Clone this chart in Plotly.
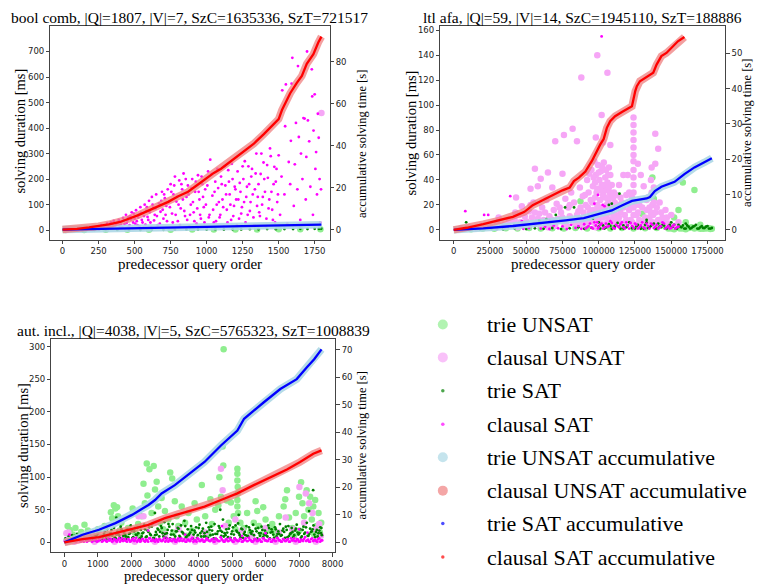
import plotly.graph_objects as go

# ---------------- text ----------------
TITLES = ["bool comb, |Q|=1807, |V|=7, SzC=1635336, SzT=721517",
          "ltl afa, |Q|=59, |V|=14, SzC=1945110, SzT=188886",
          "aut. incl., |Q|=4038, |V|=5, SzC=5765323, SzT=1008839"]
X_LABEL = "predecessor query order"
Y_LEFT_LABEL = "solving duration [ms]"
Y_RIGHT_LABEL = "accumulative solving time [s]"
SERIES = ["trie UNSAT", "clausal UNSAT", "trie SAT", "clausal SAT",
          "trie UNSAT accumulative", "clausal UNSAT accumulative",
          "trie SAT accumulative", "clausal SAT accumulative"]

# ---------------- ticks ----------------
P1_XTICKS = [0, 250, 500, 750, 1000, 1250, 1500, 1750]
P1_YTICKS = [0, 100, 200, 300, 400, 500, 600, 700]
P1_Y2TICKS = [0, 20, 40, 60, 80]
P2_XTICKS = [0, 25000, 50000, 75000, 100000, 125000, 150000, 175000]
P2_YTICKS = [0, 20, 40, 60, 80, 100, 120, 140, 160]
P2_Y2TICKS = [0, 10, 20, 30, 40, 50]
P3_XTICKS = [0, 1000, 2000, 3000, 4000, 5000, 6000, 7000, 8000]
P3_YTICKS = [0, 50, 100, 150, 200, 250, 300]
P3_Y2TICKS = [0, 10, 20, 30, 40, 50, 60, 70]

# ================= panel 1 : bool comb =================
p1_trie_unsat = [(20, 1), (150, 1), (300, 1.5), (450, 1.5), (600, 2), (750, 2), (900, 2.5), (1050, 2.5),
                 (1200, 3), (1350, 3), (1500, 3.5), (1650, 4), (1790, 4)]
p1_clausal_unsat = [(25, 1), (1797, 459)]
p1_trie_sat = [(60, 0.5), (140, 0.6), (220, 0.8), (300, 0.7), (380, 1), (460, 1.2), (540, 1), (620, 1.5),
               (700, 1.4), (780, 2), (860, 1.8), (940, 2.5), (1000, 2.2), (1060, 3), (1120, 2.6), (1180, 3.4),
               (1240, 3), (1300, 3.8), (1360, 3.5), (1420, 4.2), (1480, 3.8), (1540, 4.6), (1600, 4.2),
               (1650, 5), (1700, 4.6), (1750, 5.4), (1780, 5), (1795, 5.6)]
p1_clausal_sat = [
    (160, 2), (180, 6), (200, 4), (215, 10), (230, 8), (245, 14), (260, 12), (270, 20), (285, 6), (300, 18),
    (310, 26), (320, 12), (335, 30), (345, 22), (355, 36), (365, 16), (380, 28), (390, 40), (400, 10), (410, 34),
    (420, 48), (430, 24), (440, 60), (450, 38), (460, 14), (470, 55), (480, 70), (490, 30), (500, 45), (510, 78),
    (520, 20), (530, 62), (540, 90), (550, 40), (560, 10), (570, 100), (580, 75), (590, 52), (600, 115), (610, 30),
    (620, 130), (630, 88), (640, 60), (650, 140), (660, 20), (670, 105), (680, 72), (690, 150), (700, 45),
    (710, 125), (720, 95), (730, 160), (740, 8), (750, 180), (760, 65), (770, 140), (780, 210), (790, 112),
    (800, 35), (810, 195), (820, 85), (830, 160), (840, 222), (850, 55), (860, 130), (870, 175), (880, 15),
    (890, 100), (900, 200), (910, 70), (920, 150), (930, 25), (940, 215), (950, 120), (960, 45), (970, 180),
    (980, 90), (990, 160), (1000, 10), (1010, 230), (1020, 60), (1025, 276), (1040, 135), (1050, 30), (1060, 190),
    (1070, 100), (1080, 165), (1090, 50), (1100, 210), (1110, 120), (1120, 15), (1130, 175), (1140, 80),
    (1150, 235), (1160, 140), (1170, 40), (1180, 200), (1190, 95), (1200, 160), (1210, 20), (1220, 120),
    (1230, 185), (1240, 65), (1250, 250), (1260, 110), (1270, 30), (1280, 170), (1290, 250), (1300, 75),
    (1310, 210), (1320, 140), (1330, 20), (1340, 222), (1350, 95), (1360, 180), (1370, 55), (1380, 300),
    (1390, 130), (1400, 200), (1410, 15), (1420, 255), (1430, 85), (1440, 320), (1450, 150), (1460, 40),
    (1470, 248), (1480, 190), (1490, 110), (1500, 293), (1510, 60), (1520, 210), (1525, 548), (1540, 140),
    (1545, 407), (1550, 571), (1560, 25), (1570, 267), (1580, 180), (1585, 350), (1590, 574), (1595, 675),
    (1605, 95), (1612, 258), (1620, 420), (1630, 160), (1634, 643), (1640, 365), (1650, 40), (1655, 300),
    (1665, 200), (1672, 439), (1680, 437), (1688, 120), (1692, 287), (1697, 700), (1703, 430), (1712, 348),
    (1720, 170), (1730, 630), (1733, 524), (1738, 60), (1742, 390), (1750, 532), (1755, 240), (1760, 306),
    (1766, 140), (1772, 456), (1778, 362), (1784, 200), (1788, 30), (1794, 160),
    (205, 1), (225, 3), (240, 6), (255, 2), (265, 9), (290, 15), (305, 4), (325, 20), (340, 8), (350, 14),
    (370, 25), (385, 5), (395, 18), (405, 22), (415, 12), (425, 38), (435, 5), (445, 28), (455, 50), (465, 20),
    (475, 42), (485, 8), (495, 65), (505, 25), (515, 35), (525, 50), (535, 15), (545, 68), (555, 30), (565, 55),
    (575, 22), (585, 90), (595, 40), (605, 70), (615, 12), (625, 100), (635, 38), (645, 85), (655, 55),
    (675, 25), (685, 115), (695, 80), (705, 140), (715, 60), (725, 35), (735, 110), (745, 90), (755, 150),
    (765, 30), (775, 175), (785, 60), (795, 130), (805, 100), (815, 20), (825, 180), (835, 120), (845, 75),
    (855, 200), (865, 40), (875, 140), (885, 60), (895, 165), (905, 110), (915, 35), (925, 190), (935, 85),
    (945, 150), (955, 60), (965, 210), (975, 130), (985, 30), (995, 100), (1005, 175), (1015, 50), (1035, 220),
    (1045, 80), (1055, 150), (1065, 35), (1075, 240), (1085, 110), (1095, 60), (1105, 180), (1115, 90),
    (1125, 250), (1135, 140), (1145, 30), (1155, 190), (1165, 100), (1175, 260), (1185, 55), (1195, 170),
    (1205, 120), (1215, 230), (1225, 45), (1235, 150), (1245, 90), (1255, 200), (1265, 270), (1275, 130),
    (1285, 60), (1295, 180), (1305, 110), (1315, 240), (1325, 50), (1335, 160), (1345, 300), (1355, 130),
    (1365, 70), (1375, 220), (1385, 100), (1395, 265), (1405, 150), (1415, 45), (1425, 205), (1435, 120),
    (1445, 290), (1455, 80), (1465, 180), (1475, 30), (1485, 240), (1495, 140)]
p1_trie_acc = [(0, 0), (250, 0.4), (500, 0.7), (750, 1.0), (1000, 1.3), (1250, 1.6), (1500, 1.9), (1797, 2.3)]
p1_clausal_acc = [(0, 0), (100, 0.3), (184, 1), (250, 1.6), (321, 2.5), (400, 3.6), (459, 5), (530, 7), (596, 9),
                  (665, 11), (733, 13.2), (800, 15.8), (871, 18), (940, 21.5), (1008, 25), (1050, 27),
                  (1100, 29), (1168, 32.5), (1237, 36), (1328, 41), (1397, 45.5), (1466, 50.3), (1500, 52.7),
                  (1523, 57), (1546, 60.5), (1580, 65), (1626, 70), (1661, 73.3), (1695, 79), (1741, 83.6),
                  (1775, 89.2), (1797, 92)]

# ================= panel 2 : ltl afa =================
p2_trie_unsat = [(5000, 1), (12000, 0.5), (20000, 1), (28000, 0.8), (36000, 1.2), (44000, 1), (52000, 1.5),
                 (60000, 1), (68000, 1.2), (76000, 1), (84000, 1.5), (92000, 1), (100000, 1.3), (108000, 1),
                 (116000, 1.5), (124000, 1), (132000, 1.2), (140000, 1.5), (146000, 2.5), (150000, 1),
                 (154000, 2), (158000, 1), (162000, 1.5), (166000, 1), (170000, 0.8), (174000, 1), (177000, 0.6),
                 (148000, 1), (152000, 0.5), (156000, 1), (160000, 0.5), (164000, 2), (168000, 1.5),
                 (172000, 0.8), (176000, 1.2), (178000, 0.8),
                 (137000, 42), (158000, 38), (166000, 32), (155000, 16), (130000, 13), (138000, 25),
                 (87400, 23), (110000, 3), (143000, 6), (160000, 6), (152000, 10), (170000, 4)]
p2_clausal_unsat = [
    (99000, 140), (106000, 126), (88000, 122), (102000, 92), (82000, 81), (76000, 76), (70000, 71), (85000, 71),
    (98000, 74), (103000, 70), (108000, 68), (139000, 77), (141000, 65), (127000, 53), (139000, 53), (56000, 49),
    (65000, 46), (75000, 45), (60000, 41), (58000, 35), (68000, 34), (53000, 33), (43000, 26), (114000, 36),
    (120000, 44), (107000, 50), (124000, 90), (124000, 84), (124000, 78), (124000, 72), (124000, 66),
    (124000, 60), (124000, 55), (124000, 48), (124000, 42), (124000, 36), (124000, 30), (124000, 24),
    (124000, 18), (124000, 12),
    (40000, 4), (42000, 8), (45000, 12), (47000, 19), (48000, 3), (50000, 7), (52000, 15), (54000, 10),
    (55000, 22), (57000, 5), (59000, 13), (61000, 18), (62000, 8), (64000, 24), (66000, 11), (67000, 4),
    (69000, 16), (71000, 21), (72000, 9), (74000, 14), (76000, 6), (77000, 25), (79000, 18), (80000, 11),
    (81000, 30), (83000, 22), (84000, 5), (86000, 15), (87000, 34), (89000, 27), (90000, 9), (91000, 20),
    (92000, 40), (93000, 30), (94000, 14), (95000, 48), (95500, 22), (96000, 35), (96500, 6), (97000, 55),
    (97500, 26), (98000, 44), (98500, 16), (99000, 33), (99500, 52), (100000, 10), (100500, 40), (101000, 24),
    (101500, 47), (102000, 36), (102500, 4), (103000, 28), (103500, 54), (104000, 18), (104500, 42),
    (105000, 32), (105500, 12), (106000, 38), (106500, 24), (107000, 8), (107500, 30), (108000, 44),
    (108500, 20), (109000, 14), (110000, 26), (111000, 6), (112000, 18),
    (113000, 8), (115000, 14), (116000, 22), (117000, 44), (118000, 4), (119000, 28), (121000, 16),
    (122000, 8), (123000, 26), (126000, 12), (128000, 20), (129000, 44), (130000, 6), (131000, 35),
    (133000, 16), (134000, 26), (135000, 10), (136000, 40), (136500, 30), (137000, 20), (137500, 12),
    (138000, 34), (140000, 6), (142000, 22), (144000, 10), (146000, 16), (148000, 5), (150000, 12),
    (152000, 3), (155000, 6),
    (5000, 1), (10000, 2), (15000, 1), (20000, 3), (25000, 2), (30000, 5), (31000, 10), (35000, 4), (38000, 7),
    (88500, 3), (89500, 14), (90500, 28), (91500, 6), (92500, 18), (93500, 45), (94500, 24), (95000, 8),
    (96000, 16), (96500, 42), (97000, 12), (97500, 38), (98000, 2), (98500, 30), (99000, 20), (99500, 8),
    (100000, 46), (100500, 18), (101000, 5), (101500, 32), (102000, 14), (102500, 50), (103000, 10),
    (103500, 36), (104000, 4), (104500, 26), (105000, 48), (105500, 20), (106000, 6), (106500, 44),
    (107000, 34), (107500, 14), (108000, 26), (108500, 8), (109000, 36), (109500, 18), (110000, 10),
    (110500, 30), (111000, 22), (111500, 12), (112000, 28), (113000, 20), (114000, 10), (115000, 26),
    (116000, 5), (117000, 18), (118000, 12), (119000, 8), (120000, 22), (121000, 30), (122000, 18),
    (123000, 6), (125000, 20), (126000, 4), (127000, 14), (128000, 8), (130000, 18), (132000, 10),
    (133000, 24), (134000, 5), (135000, 18), (136000, 14), (136500, 50), (137000, 6), (138000, 22),
    (139000, 14), (140000, 18), (141000, 8), (143000, 14), (145000, 6), (147000, 10), (149000, 4),
    (42500, 14), (44000, 2), (46000, 6), (49000, 11), (51000, 3), (53000, 20), (56000, 14), (58000, 9),
    (60000, 4), (63000, 14), (65000, 2), (68000, 8), (70000, 3), (73000, 18), (75000, 10), (78000, 3),
    (80000, 20), (82000, 8), (85000, 12), (87500, 18), (88000, 6)]
p2_trie_sat = [
    (3000, 0.3), (10000, 0.5), (18000, 0.4), (26000, 0.8), (34000, 0.5), (42000, 1), (50000, 0.6), (56000, 1.2),
    (62000, 0.8), (68000, 1.5), (74000, 0.6), (80000, 1.2), (86000, 2), (90000, 0.8), (95000, 1.6),
    (100000, 2.5), (104000, 1), (108000, 3), (111000, 1.5), (114000, 2.5), (117000, 1), (120000, 3.5),
    (123000, 1.2), (126000, 2.8), (129000, 0.8), (132000, 4), (134000, 1.5), (136000, 3), (138000, 5),
    (140000, 1), (142000, 2.5), (144000, 4), (146000, 1.2), (148000, 3), (150000, 2), (152000, 4),
    (154000, 1), (156000, 2.5), (158000, 3.5), (160000, 1), (162000, 2.5), (164000, 1.5), (166000, 3),
    (168000, 1), (170000, 2), (172000, 1.5), (174000, 2.5), (176000, 1), (178000, 1.5),
    (101000, 1), (103000, 3.5), (105000, 1.8), (107000, 4.5), (109000, 0.8), (111000, 3), (113000, 5.5),
    (115000, 1), (117000, 3.5), (119000, 2), (121000, 6), (123000, 2.5), (125000, 1), (127000, 4),
    (129000, 2.5), (131000, 1), (133000, 6), (135000, 2), (137000, 4), (139000, 1), (141000, 5), (143000, 2),
    (145000, 3.5), (147000, 1), (149000, 4), (151000, 2.5), (153000, 1), (155000, 4), (157000, 2), (159000, 1),
    (161000, 3.5), (163000, 1), (165000, 2.5), (167000, 4), (169000, 1), (171000, 3), (173000, 1.5),
    (175000, 3), (177000, 1),
    (8600, 6), (114300, 29), (107000, 20), (109000, 21), (76800, 18), (83000, 18), (70400, 12), (64000, 8.6),
    (59000, 7.4), (133000, 8), (150000, 6), (160000, 5), (55000, 5), (96000, 9), (100000, 6)]
p2_clausal_sat = [
    (5000, 0.5), (10000, 1), (15000, 0.8), (25000, 1.5), (30000, 0.6), (35000, 1.2), (42000, 2), (48000, 0.8),
    (52000, 1.5), (56000, 3), (60000, 1), (63000, 2.5), (66000, 0.7), (69000, 3.5), (72000, 1.2), (75000, 2.8),
    (78000, 0.6), (81000, 4), (84000, 1.5), (86000, 3), (88000, 0.8), (90000, 4.5), (92000, 2), (94000, 5),
    (96000, 1), (98000, 3.5), (99000, 6), (100000, 2), (101000, 4), (103000, 1), (105000, 5), (106000, 2.5),
    (108000, 7), (110000, 1.5), (112000, 4), (114000, 2), (116000, 6), (118000, 1), (120000, 3.5),
    (122000, 5.5), (124000, 1.5), (126000, 4), (128000, 2), (130000, 6), (132000, 1), (134000, 3),
    (136000, 5), (138000, 1.5), (140000, 4), (142000, 2), (144000, 6), (146000, 1), (148000, 3),
    (150000, 1.5), (152000, 4), (154000, 2),
    (91000, 1), (93000, 3), (95000, 2), (97000, 6), (99500, 1), (102000, 5), (104000, 2), (107000, 3),
    (109000, 5.5), (111000, 1), (113000, 3), (115000, 4.5), (117000, 2), (119000, 6), (121000, 1),
    (123000, 3), (125000, 5), (127000, 1), (129000, 3.5), (131000, 2), (133000, 5), (135000, 1), (137000, 4),
    (139000, 2.5), (141000, 1), (143000, 3), (145000, 5), (147000, 2), (149000, 1), (151000, 3), (153000, 1),
    (155000, 2.5),
    (8000, 15), (102000, 155), (39000, 27), (21000, 12), (23800, 12), (47000, 7), (97000, 21), (99500, 28),
    (102700, 20), (88000, 10), (66000, 8), (104000, 19)]
p2_trie_acc = [(0, 0), (20400, 0.4), (40800, 1.1), (59000, 2), (77200, 2.7), (89700, 3.3), (99900, 4.5),
               (109000, 5.5), (116000, 6.9), (122900, 8.2), (133000, 8.9), (135300, 9.3), (138700, 11),
               (143200, 12.2), (152300, 13.6), (159100, 15.8), (166000, 17.7), (172800, 19.1), (178000, 20.3)]
p2_clausal_acc = [(0, 0), (9000, 0.6), (20400, 1.6), (31700, 2.7), (40800, 3.7), (48800, 5.1), (54500, 7),
                  (61300, 8.4), (68100, 9.8), (75000, 11.2), (80000, 12), (82900, 13.8), (86300, 14.8),
                  (90800, 16.5), (95400, 19.6), (98800, 22.4), (101100, 24.2), (103400, 25.7), (105600, 28.9),
                  (107900, 30.8), (111300, 32.2), (116000, 33.4), (120500, 34.6), (122900, 35), (125200, 39.3),
                  (126300, 40.7), (128400, 42.1), (131900, 43), (135300, 44), (137600, 44.5), (139900, 46.8),
                  (143200, 49.2), (146700, 50.1), (150000, 51.5), (154600, 53.4), (159100, 54.6)]

# ================= panel 3 : aut. incl. =================
p3_trie_unsat = [
    (98, 25), (167, 19), (250, 12), (330, 22), (420, 8), (500, 16), (600, 27), (650, 10), (700, 18), (800, 6),
    (900, 14), (1000, 20), (1100, 8), (1200, 25), (1300, 12), (1387, 46), (1426, 37), (1475, 57), (1520, 52),
    (1573, 54), (1600, 40), (1650, 18), (1700, 30), (1800, 10), (1900, 22), (2036, 52), (2100, 15), (2200, 28),
    (2300, 40), (2360, 90), (2400, 60), (2457, 121), (2478, 72), (2537, 112), (2600, 45), (2665, 117),
    (2704, 81), (2753, 93), (2800, 55), (2850, 30), (2900, 68), (2950, 20), (3000, 48), (3100, 35),
    (3157, 107), (3216, 98), (3294, 63), (3350, 40), (3400, 25), (3500, 55), (3600, 30), (3700, 45),
    (3800, 18), (3884, 60), (3950, 35), (4100, 88), (4200, 40), (4356, 66), (4400, 28), (4500, 50),
    (4592, 57), (4622, 100), (4670, 70), (4720, 147), (4740, 118), (4750, 296), (4847, 64), (4900, 30),
    (4966, 61), (5050, 40), (5100, 20), (5160, 113), (5160, 105), (5160, 95), (5170, 85), (5170, 75),
    (5160, 65), (5160, 55), (5180, 45), (5250, 30), (5350, 22), (5450, 45), (5550, 15), (5703, 63),
    (5752, 48), (5800, 25), (5930, 54), (6000, 35), (6100, 18), (6200, 28), (6300, 12), (6400, 40),
    (6540, 55), (6588, 66), (6640, 80), (6700, 38), (6800, 22), (6900, 45), (6999, 70), (7060, 92),
    (7100, 60), (7150, 40), (7227, 80), (7280, 50), (7330, 70), (7380, 35), (7424, 55), (7480, 65),
    (7520, 25), (7580, 45), (7620, 15), (7660, 30), (5900, 12), (6250, 20), (6850, 10), (7000, 18),
    (7450, 12), (3250, 15), (2250, 10), (4300, 12), (5650, 30), (3650, 10)]
p3_clausal_unsat = [
    (60, 14), (118, 15), (160, 10), (220, 5), (400, 3), (700, 6), (1000, 4), (1300, 8), (1700, 12),
    (2213, 40), (2360, 40), (2700, 30), (3000, 12), (3400, 20), (3800, 8), (4200, 15), (4670, 113),
    (4720, 80), (4800, 25), (5100, 35), (5300, 18), (5600, 10), (6000, 22), (6400, 15), (6600, 38),
    (6800, 20), (7010, 85), (7200, 75), (7300, 60), (7150, 30), (7400, 45), (7500, 20), (7600, 28),
    (7650, 10), (300, 1), (900, 1), (1500, 1), (2100, 1), (2700, 1), (3300, 1), (3900, 1), (4500, 1),
    (5100, 1), (5700, 1), (6300, 1), (6900, 1), (7500, 1)]
p3_trie_sat = [
    (30, 6), (80, 3), (130, 9), (180, 4), (230, 11), (280, 2), (330, 7), (380, 13), (430, 5), (480, 9),
    (530, 3), (580, 12), (630, 6), (680, 15), (730, 4), (780, 10), (830, 7), (880, 16), (930, 3), (980, 12),
    (1030, 8), (1080, 18), (1130, 5), (1180, 13), (1230, 9), (1280, 20), (1330, 4), (1380, 14), (1430, 10),
    (1480, 22), (1530, 6), (1580, 16), (1630, 11), (1680, 24), (1730, 5), (1780, 15), (1830, 9), (1880, 20),
    (1930, 13), (1980, 26), (2030, 7), (2080, 17), (2130, 12), (2180, 22), (2230, 5), (2280, 19), (2330, 14),
    (2380, 27), (2430, 8), (2480, 18), (2530, 23), (2580, 11), (2630, 29), (2680, 6), (2730, 16), (2780, 21),
    (2830, 9), (2880, 25), (2930, 14), (2980, 31), (3030, 7), (3080, 19), (3130, 24), (3180, 12), (3230, 28),
    (3280, 5), (3330, 17), (3380, 22), (3430, 10), (3480, 26), (3530, 15), (3580, 33), (3630, 8), (3680, 20),
    (3730, 13), (3780, 25), (3830, 6), (3880, 18), (3930, 23), (3980, 11), (4030, 27), (4080, 9), (4130, 21),
    (4180, 14), (4230, 30), (4280, 7), (4330, 19), (4380, 24), (4430, 12), (4480, 28), (4530, 5), (4580, 17),
    (4630, 22), (4680, 10), (4730, 35), (4780, 14), (4830, 20), (4880, 8), (4930, 26), (4980, 13), (5030, 23),
    (5080, 6), (5130, 18), (5180, 29), (5230, 11), (5280, 21), (5330, 7), (5380, 16), (5430, 25), (5480, 9),
    (5530, 19), (5580, 13), (5630, 27), (5680, 5), (5730, 17), (5780, 22), (5830, 10), (5880, 24), (5930, 8),
    (5980, 18), (6030, 14), (6080, 26), (6130, 6), (6180, 20), (6230, 12), (6280, 23), (6330, 9), (6380, 17),
    (6430, 28), (6480, 11), (6530, 21), (6580, 7), (6630, 19), (6680, 25), (6730, 13), (6780, 22), (6830, 8),
    (6880, 18), (6930, 27), (6980, 12), (7030, 20), (7080, 9), (7130, 24), (7180, 15), (7230, 30), (7280, 10),
    (7330, 21), (7380, 17), (7430, 26), (7480, 8), (7530, 19), (7580, 14), (7630, 23), (7680, 11),
    (55, 2), (155, 5), (255, 8), (355, 3), (455, 6), (555, 9), (655, 4), (755, 8), (855, 5), (955, 10),
    (1055, 4), (1155, 9), (1255, 6), (1355, 11), (1455, 5), (1555, 12), (1655, 7), (1755, 10), (1855, 5),
    (1955, 14), (2055, 8), (2155, 11), (2255, 6), (2355, 15), (2455, 9), (2555, 13), (2655, 7), (2755, 12),
    (2855, 16), (2955, 9), (3055, 14), (3155, 6), (3255, 12), (3355, 17), (3455, 8), (3555, 13), (3655, 10),
    (3755, 15), (3855, 12), (3955, 7), (4055, 14), (4155, 9), (4255, 16), (4355, 11), (4455, 6), (4555, 13),
    (4655, 18), (4755, 9), (4855, 15), (4955, 7), (5055, 12), (5155, 16), (5255, 8), (5355, 13), (5455, 10),
    (5555, 15), (5655, 11), (5755, 6), (5855, 14), (5955, 12), (6055, 9), (6155, 15), (6255, 7), (6355, 13),
    (6455, 10), (6555, 16), (6655, 8), (6755, 14), (6855, 11), (6955, 15), (7055, 7), (7155, 13), (7255, 10),
    (7355, 16), (7455, 12), (7555, 9), (7655, 14),
    (105, 4), (205, 7), (305, 10), (405, 6), (505, 12), (605, 8), (705, 14), (805, 5), (905, 11), (1005, 15),
    (1105, 7), (1205, 17), (1305, 9), (1405, 19), (1505, 8), (1605, 13), (1705, 20), (1805, 12), (1905, 8),
    (2005, 18), (2105, 22), (2205, 14), (2305, 9), (2405, 20), (2505, 16), (2605, 24), (2705, 11), (2805, 19),
    (2905, 22), (3005, 13), (3105, 28), (3205, 18), (3305, 9), (3405, 21), (3505, 16), (3605, 25), (3705, 11),
    (3805, 19), (3905, 15), (4005, 22), (4105, 17), (4205, 9), (4305, 23), (4405, 18), (4505, 13), (4605, 25),
    (4705, 16), (4805, 11), (4905, 21), (5005, 17), (5105, 26), (5205, 14), (5305, 20), (5405, 11), (5505, 23),
    (5605, 17), (5705, 21), (5805, 14), (5905, 19), (6005, 11), (6105, 22), (6205, 16), (6305, 20), (6405, 13),
    (6505, 18), (6605, 24), (6705, 10), (6805, 16), (6905, 21), (7005, 14), (7105, 19), (7205, 23), (7305, 13),
    (7405, 20), (7505, 16), (7605, 18), (7665, 22),
    (1550, 38), (4650, 50), (5200, 42), (7420, 80), (7300, 48), (2700, 45)]
p3_clausal_sat = [
    (40, 3), (100, 1), (160, 5), (220, 2), (280, 4), (340, 1), (400, 6), (460, 2), (520, 3), (580, 1),
    (640, 5), (700, 2), (760, 4), (820, 1), (880, 6), (940, 3), (1000, 2), (1060, 5), (1120, 1), (1180, 4),
    (1240, 2), (1300, 7), (1360, 3), (1420, 1), (1480, 5), (1540, 2), (1600, 4), (1660, 1), (1720, 6),
    (1780, 3), (1840, 2), (1900, 5), (1960, 1), (2020, 4), (2080, 2), (2140, 7), (2200, 3), (2260, 1),
    (2320, 5), (2380, 2), (2440, 4), (2500, 1), (2560, 6), (2620, 3), (2680, 2), (2740, 5), (2800, 1),
    (2860, 4), (2920, 2), (2980, 7), (3040, 3), (3100, 1), (3160, 5), (3220, 2), (3280, 4), (3340, 1),
    (3400, 6), (3460, 3), (3520, 2), (3580, 5), (3640, 1), (3700, 4), (3760, 2), (3820, 7), (3880, 3),
    (3940, 1), (4000, 5), (4060, 2), (4120, 4), (4180, 1), (4240, 6), (4300, 3), (4360, 2), (4420, 5),
    (4480, 1), (4540, 4), (4600, 2), (4660, 8), (4720, 3), (4780, 1), (4840, 5), (4900, 2), (4960, 4),
    (5020, 1), (5080, 6), (5140, 3), (5200, 2), (5260, 5), (5320, 1), (5380, 4), (5440, 2), (5500, 7),
    (5560, 3), (5620, 1), (5680, 5), (5740, 2), (5800, 4), (5860, 1), (5920, 6), (5980, 3), (6040, 2),
    (6100, 5), (6160, 1), (6220, 4), (6280, 2), (6340, 7), (6400, 3), (6460, 1), (6520, 5), (6580, 2),
    (6640, 4), (6700, 1), (6760, 6), (6820, 3), (6880, 2), (6940, 5), (7000, 1), (7060, 4), (7120, 2),
    (7180, 8), (7240, 3), (7300, 1), (7360, 5), (7420, 2), (7480, 4), (7540, 1), (7600, 6), (7660, 3),
    (10, 2), (70, 4), (130, 2), (190, 3), (250, 1), (310, 5), (370, 2), (430, 4), (490, 1), (550, 3), (610, 6),
    (670, 1), (730, 3), (790, 5), (850, 2), (910, 4), (970, 1), (1030, 3), (1090, 6), (1150, 2), (1210, 4),
    (1270, 1), (1330, 3), (1390, 5), (1450, 2), (1510, 4), (1570, 1), (1630, 6), (1690, 3), (1750, 2),
    (1810, 5), (1870, 1), (1930, 4), (1990, 2), (2050, 6), (2110, 3), (2170, 1), (2230, 4), (2290, 2),
    (2350, 5), (2410, 1), (2470, 3), (2530, 6), (2590, 2), (2650, 4), (2710, 1), (2770, 3), (2830, 5),
    (2890, 2), (2950, 4), (3010, 1), (3070, 6), (3130, 3), (3190, 2), (3250, 5), (3310, 1), (3370, 4),
    (3430, 2), (3490, 6), (3550, 3), (3610, 1), (3670, 4), (3730, 2), (3790, 5), (3850, 1), (3910, 3),
    (3970, 6), (4030, 2), (4090, 4), (4150, 1), (4210, 3), (4270, 5), (4330, 2), (4390, 4), (4450, 1),
    (4510, 6), (4570, 3), (4630, 2), (4690, 5), (4750, 1), (4810, 4), (4870, 2), (4930, 6), (4990, 3),
    (5050, 1), (5110, 4), (5170, 2), (5230, 5), (5290, 1), (5350, 3), (5410, 6), (5470, 2), (5530, 4),
    (5590, 1), (5650, 3), (5710, 5), (5770, 2), (5830, 4), (5890, 1), (5950, 6), (6010, 3), (6070, 2),
    (6130, 5), (6190, 1), (6250, 4), (6310, 2), (6370, 6), (6430, 3), (6490, 1), (6550, 4), (6610, 2),
    (6670, 5), (6730, 1), (6790, 3), (6850, 6), (6910, 2), (6970, 4), (7030, 1), (7090, 3), (7150, 5),
    (7210, 2), (7270, 4), (7330, 1), (7390, 6), (7450, 3), (7510, 2), (7570, 5), (7630, 1), (7690, 3),
    (150, 12), (2500, 18), (4700, 25), (7000, 20), (7250, 15), (3600, 12), (6000, 14), (5300, 10)]
p3_trie_acc = [(0, 0), (541, 2.8), (1032, 4.6), (1524, 7), (2016, 10), (2507, 13.6), (2704, 15.4),
               (2900, 17.8), (3294, 20.8), (3700, 24.8), (4180, 29.2), (4670, 35.2), (5160, 40.6),
               (5360, 44.9), (5650, 48), (5950, 50.9), (6440, 55.7), (6930, 59.3), (7227, 63.5),
               (7450, 66.5), (7670, 70.1)]
p3_clausal_acc = [(0, 0), (541, 1.2), (1032, 1.9), (1524, 3.4), (2016, 4.8), (2507, 6.4), (2999, 8.8),
                  (3490, 10.6), (3800, 11.8), (4180, 13), (4670, 15.4), (5160, 17.8), (5650, 20.8),
                  (6145, 23.8), (6637, 26.5), (7030, 29.2), (7424, 32.2), (7670, 33.4)]

# ---------------- styles ----------------
COLORS = ["#90EE90", "#F6A6F6", "#008000", "#FF00FF", "#ADD8E6", "#F08080", "#0000FF", "#FF0000"]
W, H = 765, 585
SERIF = "Liberation Serif"
SANS = "DejaVu Sans"


def xs(pts):
    return [p[0] for p in pts]


def ys(pts):
    return [p[1] for p in pts]


fig = go.Figure()

panels = [
    dict(xa="x", ya="y", ya2="y2", data=[p1_trie_unsat, p1_clausal_unsat, p1_trie_sat, p1_clausal_sat],
         acc=[p1_trie_acc, p1_clausal_acc]),
    dict(xa="x2", ya="y3", ya2="y4", data=[p2_trie_unsat, p2_clausal_unsat, p2_trie_sat, p2_clausal_sat],
         acc=[p2_trie_acc, p2_clausal_acc]),
    dict(xa="x3", ya="y5", ya2="y6", data=[p3_trie_unsat, p3_clausal_unsat, p3_trie_sat, p3_clausal_sat],
         acc=[p3_trie_acc, p3_clausal_acc]),
]
SIZES = [6.5, 6.5, 2.8, 2.8]

for pn in panels:
    for i, pts in enumerate(pn["data"]):
        fig.add_trace(go.Scatter(x=xs(pts), y=ys(pts), mode="markers", name=SERIES[i], showlegend=False,
                                 xaxis=pn["xa"], yaxis=pn["ya"],
                                 marker=dict(color=COLORS[i], size=SIZES[i], line=dict(width=0))))
    trie_acc, clausal_acc = pn["acc"]
    fig.add_trace(go.Scatter(x=xs(trie_acc), y=ys(trie_acc), mode="lines", name=SERIES[4], showlegend=False,
                             xaxis=pn["xa"], yaxis=pn["ya2"], line=dict(color=COLORS[4], width=7.5), opacity=0.9))
    fig.add_trace(go.Scatter(x=xs(clausal_acc), y=ys(clausal_acc), mode="lines", name=SERIES[5], showlegend=False,
                             xaxis=pn["xa"], yaxis=pn["ya2"], line=dict(color=COLORS[5], width=7.5), opacity=0.75))
    fig.add_trace(go.Scatter(x=xs(trie_acc), y=ys(trie_acc), mode="lines", name=SERIES[6], showlegend=False,
                             xaxis=pn["xa"], yaxis=pn["ya2"], line=dict(color=COLORS[6], width=2.3)))
    fig.add_trace(go.Scatter(x=xs(clausal_acc), y=ys(clausal_acc), mode="lines", name=SERIES[7], showlegend=False,
                             xaxis=pn["xa"], yaxis=pn["ya2"], line=dict(color=COLORS[7], width=2.3)))

# ---------------- legend panel (hidden axes in pixel units) ----------------
LEG_ROWS = [324, 357, 390.5, 424, 457, 490.5, 523.5, 557]
LEG_SIZES = [10, 10, 3.5, 3.5, 10, 10, 3.5, 3.5]
fig.add_trace(go.Scatter(x=[447.5] * len(SERIES), y=LEG_ROWS, mode="markers", showlegend=False,
                         xaxis="x4", yaxis="y7", hoverinfo="skip",
                         marker=dict(color=COLORS, size=LEG_SIZES, line=dict(width=0))))

tick_font = dict(family=SANS, size=8.5, color="#222")
common_axis = dict(showline=True, linecolor="#444", linewidth=1, mirror=True, ticks="outside", ticklen=3.5,
                   tickwidth=0.9, tickcolor="#444", showgrid=False, zeroline=False, tickfont=tick_font,
                   tickangle=0)
right_axis = dict(showline=False, ticks="outside", ticklen=3.5, tickwidth=0.9, tickcolor="#444",
                  showgrid=False, zeroline=False, tickfont=tick_font, side="right", tickangle=0)


def dx(a, b):
    return [a / W, b / W]


def dy(top, bottom):
    return [1 - bottom / H, 1 - top / H]


fig.update_layout(
    width=W, height=H, autosize=False, margin=dict(l=0, r=0, t=0, b=0),
    paper_bgcolor="white", plot_bgcolor="white", showlegend=False,
    xaxis=dict(domain=dx(51, 333), anchor="y", range=[-84, 1853], tickvals=P1_XTICKS, tickformat="d", **common_axis),
    yaxis=dict(domain=dy(25, 239), anchor="x", range=[-37, 800], tickvals=P1_YTICKS, **common_axis),
    yaxis2=dict(overlaying="y", anchor="x", range=[-4.8, 97.1], tickvals=P1_Y2TICKS, **right_axis),
    xaxis2=dict(domain=dx(445, 733), anchor="y3", range=[-9200, 187300], tickvals=P2_XTICKS, tickformat="d",
                **common_axis),
    yaxis3=dict(domain=dy(25, 239), anchor="x2", range=[-7.8, 163.4], tickvals=P2_YTICKS, **common_axis),
    yaxis4=dict(overlaying="y3", anchor="x2", range=[-2.75, 57.75], tickvals=P2_Y2TICKS, **right_axis),
    xaxis3=dict(domain=dx(52, 339), anchor="y5", range=[-385, 8085], tickvals=P3_XTICKS, tickformat="d",
                **common_axis),
    yaxis5=dict(domain=dy(338.5, 552), anchor="x3", range=[-14.85, 311.85], tickvals=P3_YTICKS, **common_axis),
    yaxis6=dict(overlaying="y5", anchor="x3", range=[-3.5, 73.9], tickvals=P3_Y2TICKS, **right_axis),
    xaxis4=dict(domain=dx(420, 765), anchor="y7", range=[420, 765], visible=False, fixedrange=True),
    yaxis7=dict(domain=dy(300, 585), anchor="x4", range=[585, 300], visible=False, fixedrange=True),
)

ann = []


def add_text(text, x, y, size, angle=0, xanchor="center"):
    ann.append(dict(text=text, x=x / W, y=1 - y / H, xref="paper", yref="paper", showarrow=False,
                    xanchor=xanchor, yanchor="middle", textangle=angle,
                    font=dict(family=SERIF, size=size, color="black")))


# titles
add_text(TITLES[0], 192, 17, 15.5)
add_text(TITLES[1], 589, 17, 15.5)
add_text(TITLES[2], 195.5, 330, 15.5)
# x labels
add_text(X_LABEL, 192, 263.5, 15)
add_text(X_LABEL, 589, 263.5, 15)
add_text(X_LABEL, 195.5, 576, 14.5)
# left y labels
add_text(Y_LEFT_LABEL, 20, 130, 14.5, -90)
add_text(Y_LEFT_LABEL, 415, 132, 14.5, -90)
add_text(Y_LEFT_LABEL, 23, 445, 14.5, -90)
# right y labels
add_text(Y_RIGHT_LABEL, 366, 143, 12.5, -90)
add_text(Y_RIGHT_LABEL, 755, 132, 12.5, -90)
add_text(Y_RIGHT_LABEL, 366, 445, 12.5, -90)
# legend labels
for lab, yy in zip(SERIES, LEG_ROWS):
    add_text(lab, 490, yy, 22, 0, "left")

fig.update_layout(annotations=ann)
fig.write_html("out.html", config={"displayModeBar": False},
               post_script="document.body.style.margin='0px';")
